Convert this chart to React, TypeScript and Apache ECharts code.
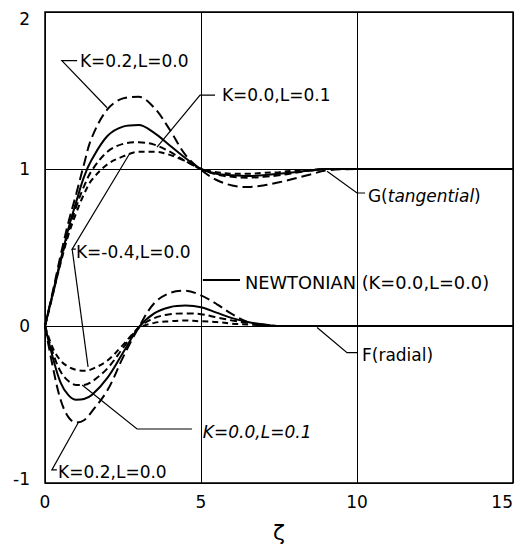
import React, { useEffect, useRef } from "react";
import * as echarts from "echarts";

// ζ sample positions
const xs = [0, 0.25, 0.5, 0.75, 1, 1.25, 1.5, 2, 2.5, 3, 3.5, 4, 4.5, 5, 5.5, 6, 6.5, 7, 7.5, 8, 8.5, 9, 10, 15];

// G (tangential)
const gK02 = [0, 0.22, 0.45, 0.66, 0.84, 1.03, 1.2, 1.38, 1.45, 1.46, 1.39, 1.25, 1.09, 0.995, 0.93, 0.895, 0.885, 0.895, 0.915, 0.94, 0.965, 0.99, 1, 1];
const gNewt = [0, 0.21, 0.42, 0.62, 0.79, 0.95, 1.06, 1.21, 1.27, 1.28, 1.23, 1.15, 1.07, 1.0, 0.97, 0.96, 0.955, 0.96, 0.97, 0.98, 0.99, 1.0, 1, 1];
const gL01 = [0, 0.2, 0.41, 0.6, 0.76, 0.89, 0.99, 1.11, 1.16, 1.17, 1.155, 1.11, 1.05, 1.0, 0.965, 0.95, 0.945, 0.95, 0.96, 0.975, 0.99, 1.0, 1, 1];
const gKm04 = [0, 0.2, 0.4, 0.58, 0.72, 0.84, 0.93, 1.03, 1.08, 1.11, 1.11, 1.09, 1.05, 1.0, 0.98, 0.97, 0.97, 0.975, 0.98, 0.99, 0.995, 1.0, 1, 1];

// F (radial)
const fK02 = [0, -0.26, -0.47, -0.58, -0.615, -0.6, -0.545, -0.41, -0.2, -0.01, 0.145, 0.21, 0.225, 0.195, 0.14, 0.075, 0.025, 0.0, 0, 0, 0, 0, 0, 0];
const fNewt = [0, -0.2, -0.36, -0.44, -0.47, -0.465, -0.44, -0.33, -0.17, -0.01, 0.08, 0.12, 0.13, 0.12, 0.085, 0.05, 0.025, 0.01, 0, 0, 0, 0, 0, 0];
const fL01 = [0, -0.17, -0.29, -0.35, -0.375, -0.375, -0.355, -0.27, -0.14, -0.01, 0.05, 0.075, 0.08, 0.075, 0.055, 0.035, 0.02, 0.01, 0, 0, 0, 0, 0, 0];
const fKm04 = [0, -0.14, -0.22, -0.26, -0.28, -0.285, -0.275, -0.22, -0.12, -0.015, 0.02, 0.03, 0.035, 0.03, 0.025, 0.015, 0.01, 0.005, 0, 0, 0, 0, 0, 0];

const xTickLabels = ["0", "5", "10", "15"];
const yTickLabels = ["-1", "0", "1", "2"];

// annotations (data coordinates)
const annText: { text: string; at: [number, number]; italic?: boolean; rich?: boolean; size?: number }[] = [
  { text: "K=0.2,L=0.0", at: [1.12, 1.69] },
  { text: "K=0.0,L=0.1", at: [5.67, 1.47] },
  { text: "K=-0.4,L=0.0", at: [0.99, 0.47] },
  { text: "NEWTONIAN (K=0.0,L=0.0)", at: [6.41, 0.28], size: 17.8 },
  { text: "G(tangential)", at: [10.35, 0.83], rich: true },
  { text: "F(radial)", at: [10.16, -0.185] },
  { text: "K=0.0,L=0.1", at: [5.06, -0.675], italic: true },
  { text: "K=0.2,L=0.0", at: [0.42, -0.93] },
];
const leaders: [number, number][][] = [
  [[1.03, 1.69], [0.54, 1.69], [1.99, 1.39]],
  [[5.45, 1.47], [4.97, 1.47], [3.59, 1.14]],
  [[0.99, 0.49], [0.87, 0.49], [2.72, 1.1]],
  [[0.87, 0.49], [1.38, -0.26]],
  [[9.04, 0.985], [10.0, 0.847], [10.26, 0.847]],
  [[8.72, -0.01], [9.68, -0.17], [10.03, -0.17]],
  [[1.19, -0.376], [2.95, -0.656], [4.71, -0.656]],
  [[1.06, -0.618], [0.22, -0.917], [0.38, -0.917]],
];
const newtonianKey: [number, number][] = [[5.06, 0.293], [6.25, 0.293]];

const FONT = "DejaVu Sans";

export default function App() {
  const ref = useRef<HTMLDivElement>(null);
  useEffect(() => {
    const chart = echarts.init(ref.current!, null, { renderer: "svg" });
    const mk = (name: string, ys: number[], type: any) => ({
      name,
      type: "line",
      data: xs.map((x, i) => [x, ys[i]]),
      smooth: 0.35,
      symbol: "none",
      lineStyle: { color: "#000", width: 2, type },
      z: 3,
    });
    chart.setOption({
      animation: false,
      backgroundColor: "#fff",
      grid: {
        left: 45,
        right: 2,
        top: 12,
        bottom: 63,
        show: true,
        borderColor: "#000",
        borderWidth: 1.5,
        outerBoundsMode: "none",
        containLabel: false,
      },
      xAxis: {
        type: "value",
        min: 0,
        max: 15,
        interval: 5,
        name: "ζ",
        nameLocation: "middle",
        nameGap: 38,
        nameTextStyle: { fontFamily: FONT, fontSize: 22, color: "#000" },
        axisLine: { show: false },
        axisTick: { show: false },
        axisLabel: {
          color: "#000",
          fontFamily: FONT,
          fontSize: 17,
          margin: 10,
          alignMaxLabel: "right",
          formatter: (v: number) => xTickLabels[Math.round(v / 5)] ?? "",
        },
        splitLine: { show: true, lineStyle: { color: "#000", width: 1 } },
      },
      yAxis: {
        type: "value",
        min: -1,
        max: 2,
        interval: 1,
        axisLine: { show: false },
        axisTick: { show: false },
        axisLabel: {
          color: "#000",
          fontFamily: FONT,
          fontSize: 17,
          margin: 15,
          formatter: (v: number) => {
            const t = yTickLabels[Math.round(v + 1)] ?? "";
            if (v === 2) return `{top|${t}}`;
            if (v === -1) return `{bot|${t}}`;
            return t;
          },
          rich: {
            top: { fontFamily: FONT, fontSize: 17, color: "#000", padding: [14, 0, 0, 0] },
            bot: { fontFamily: FONT, fontSize: 17, color: "#000", padding: [0, 0, 8, 0] },
          },
        },
        splitLine: { show: true, lineStyle: { color: "#000", width: 1 } },
      },
      series: [
        mk("G K=0.2,L=0.0", gK02, [10, 5]),
        mk("G Newtonian", gNewt, "solid"),
        mk("G K=0.0,L=0.1", gL01, [7, 4]),
        mk("G K=-0.4,L=0.0", gKm04, [6, 4]),
        mk("F K=0.2,L=0.0", fK02, [10, 5]),
        mk("F Newtonian", fNewt, "solid"),
        mk("F K=0.0,L=0.1", fL01, [7, 4]),
        mk("F K=-0.4,L=0.0", fKm04, [6, 4]),
      ],
    });
    const P = (p: [number, number]) => chart.convertToPixel({ gridIndex: 0 }, p) as number[];
    const graphic: any[] = [];
    leaders.forEach((pts) => {
      graphic.push({
        type: "polyline",
        shape: { points: pts.map((p) => P(p)) },
        style: { stroke: "#000", lineWidth: 1.2, fill: null },
        z: 10,
      });
    });
    graphic.push({
      type: "polyline",
      shape: { points: newtonianKey.map((p) => P(p)) },
      style: { stroke: "#000", lineWidth: 2, fill: null },
      z: 10,
    });
    annText.forEach((a) => {
      const [x, y] = P(a.at);
      if (a.rich) {
        graphic.push({
          type: "text",
          x,
          y,
          z: 10,
          style: {
            text: "{u|G(}{i|tangential}{u|)}",
            rich: {
              u: { fontFamily: FONT, fontSize: 17, fill: "#000" },
              i: { fontFamily: FONT, fontSize: 17, fontStyle: "italic", fill: "#000" },
            },
            verticalAlign: "middle",
            align: "left",
            fill: "#000",
          },
        });
      } else {
        graphic.push({
          type: "text",
          x,
          y,
          z: 10,
          style: {
            text: a.text,
            fontFamily: FONT,
            fontSize: a.size ?? 17,
            fontStyle: a.italic ? "italic" : "normal",
            fill: "#000",
            verticalAlign: "middle",
            align: "left",
          },
        });
      }
    });
    chart.setOption({ graphic });
    return () => chart.dispose();
  }, []);
  return (
    <div
      ref={ref}
      style={{ position: "fixed", left: 0, top: 0, width: 515, height: 546, background: "#fff" }}
    />
  );
}
